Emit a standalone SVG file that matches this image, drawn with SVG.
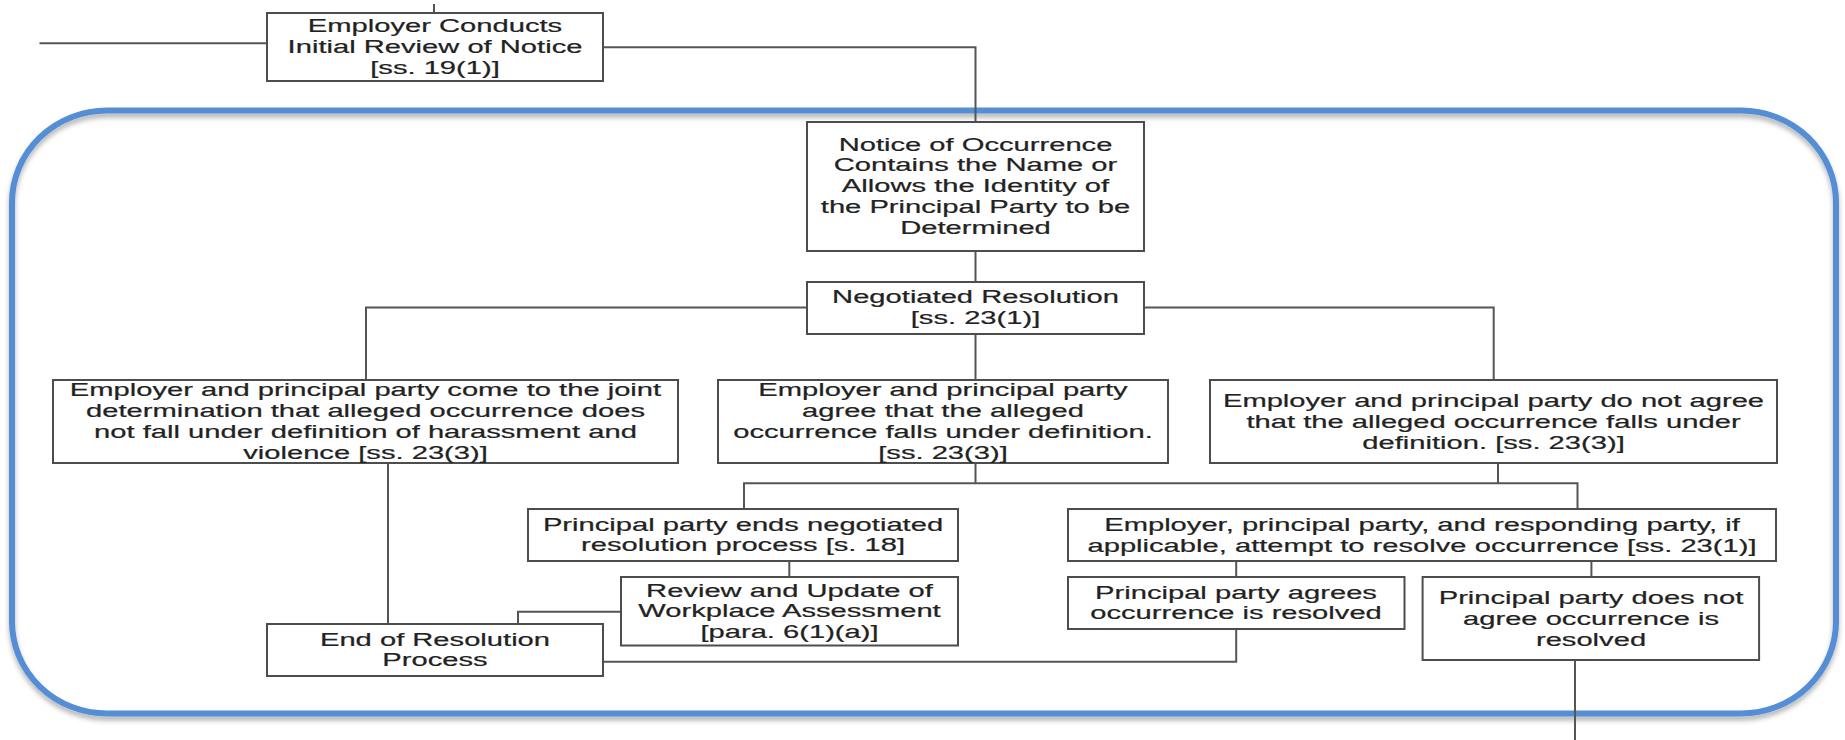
<svg xmlns="http://www.w3.org/2000/svg" width="1845" height="740" viewBox="0 0 1845 740">
<defs>
<filter id="sh" x="-5%" y="-5%" width="110%" height="115%">
<feDropShadow dx="0" dy="4" stdDeviation="2.5" flood-color="#000" flood-opacity="0.3"/>
</filter>
<style>
.box{fill:#fff;stroke:#4d4d4d;stroke-width:2}
.ln{fill:none;stroke:#555;stroke-width:2}
.t{font-family:"Liberation Sans",Arial,sans-serif;font-size:18px;fill:#222;stroke:#222;stroke-width:0.2;text-anchor:middle}
</style>
</defs>
<rect x="0" y="0" width="1845" height="740" fill="#fff"/>
<rect x="12" y="110.5" width="1824" height="603" rx="95" ry="92" fill="none" stroke="#558ED5" stroke-width="6" filter="url(#sh)"/>
<g id="connectors" class="ln">
<path d="M434,4 V13"/>
<path d="M39.5,43.3 H267"/>
<path d="M603,47.3 H975.5 V122"/>
<path d="M975.5,251 V282"/>
<path d="M807,307.5 H366 V380"/>
<path d="M1144,307.5 H1493.7 V380"/>
<path d="M975.5,334 V380"/>
<path d="M388,463 V624"/>
<path d="M975.5,463 V483.3"/>
<path d="M1498,463 V483.3"/>
<path d="M744,509 V483.3 H1577.5 V509"/>
<path d="M789.3,561 V577"/>
<path d="M621,611.7 H518 V624"/>
<path d="M603,661.7 H1236.2 V629"/>
<path d="M1236.2,561 V577"/>
<path d="M1591.4,561 V577"/>
<path d="M1575,660 V740"/>
</g>
<g id="n-initial"><rect class="box" x="267" y="13" width="336" height="68"/>
<text class="t" transform="matrix(1.62 0 0 1 435 0)"><tspan x="0" y="32">Employer Conducts</tspan><tspan x="0" y="53">Initial Review of Notice</tspan><tspan x="0" y="74">[ss. 19(1)]</tspan></text></g>
<g id="n-notice"><rect class="box" x="807" y="122" width="337" height="129"/>
<text class="t" transform="matrix(1.62 0 0 1 975.5 0)"><tspan x="0" y="150.7">Notice of Occurrence</tspan><tspan x="0" y="171.5">Contains the Name or</tspan><tspan x="0" y="192.3">Allows the Identity of</tspan><tspan x="0" y="213">the Principal Party to be</tspan><tspan x="0" y="234">Determined</tspan></text></g>
<g id="n-negotiated"><rect class="box" x="807" y="282" width="337" height="52"/>
<text class="t" transform="matrix(1.62 0 0 1 975.5 0)"><tspan x="0" y="303.5">Negotiated Resolution</tspan><tspan x="0" y="324.5">[ss. 23(1)]</tspan></text></g>
<g id="n-left"><rect class="box" x="53" y="380" width="625" height="83"/>
<text class="t" transform="matrix(1.62 0 0 1 365.5 0)"><tspan x="0" y="396">Employer and principal party come to the joint</tspan><tspan x="0" y="417">determination that alleged occurrence does</tspan><tspan x="0" y="438">not fall under definition of harassment and</tspan><tspan x="0" y="459">violence [ss. 23(3)]</tspan></text></g>
<g id="n-middle"><rect class="box" x="718" y="380" width="450" height="83"/>
<text class="t" transform="matrix(1.62 0 0 1 943 0)"><tspan x="0" y="396">Employer and principal party</tspan><tspan x="0" y="417">agree that the alleged</tspan><tspan x="0" y="438">occurrence falls under definition.</tspan><tspan x="0" y="459">[ss. 23(3)]</tspan></text></g>
<g id="n-right"><rect class="box" x="1210" y="380" width="567" height="83"/>
<text class="t" transform="matrix(1.62 0 0 1 1493.5 0)"><tspan x="0" y="407.3">Employer and principal party do not agree</tspan><tspan x="0" y="428">that the alleged occurrence falls under</tspan><tspan x="0" y="449">definition. [ss. 23(3)]</tspan></text></g>
<g id="n-ends"><rect class="box" x="528" y="509" width="430" height="52"/>
<text class="t" transform="matrix(1.62 0 0 1 743 0)"><tspan x="0" y="531">Principal party ends negotiated</tspan><tspan x="0" y="551.5">resolution process [s. 18]</tspan></text></g>
<g id="n-attempt"><rect class="box" x="1068" y="509" width="708" height="52"/>
<text class="t" transform="matrix(1.62 0 0 1 1422 0)"><tspan x="0" y="531">Employer, principal party, and responding party, if</tspan><tspan x="0" y="552">applicable, attempt to resolve occurrence [ss. 23(1)]</tspan></text></g>
<g id="n-review"><rect class="box" x="621" y="577" width="337" height="68.5"/>
<text class="t" transform="matrix(1.62 0 0 1 789.5 0)"><tspan x="0" y="596.7">Review and Update of</tspan><tspan x="0" y="617.3">Workplace Assessment</tspan><tspan x="0" y="638">[para. 6(1)(a)]</tspan></text></g>
<g id="n-end"><rect class="box" x="267" y="624" width="336" height="52"/>
<text class="t" transform="matrix(1.62 0 0 1 435 0)"><tspan x="0" y="645.7">End of Resolution</tspan><tspan x="0" y="666.3">Process</tspan></text></g>
<g id="n-agrees"><rect class="box" x="1068" y="577" width="336.5" height="52"/>
<text class="t" transform="matrix(1.62 0 0 1 1236 0)"><tspan x="0" y="599">Principal party agrees</tspan><tspan x="0" y="619.5">occurrence is resolved</tspan></text></g>
<g id="n-notagree"><rect class="box" x="1422.6" y="577" width="336.5" height="83"/>
<text class="t" transform="matrix(1.62 0 0 1 1591 0)"><tspan x="0" y="603.7">Principal party does not</tspan><tspan x="0" y="625">agree occurrence is</tspan><tspan x="0" y="645.7">resolved</tspan></text></g>
</svg>
